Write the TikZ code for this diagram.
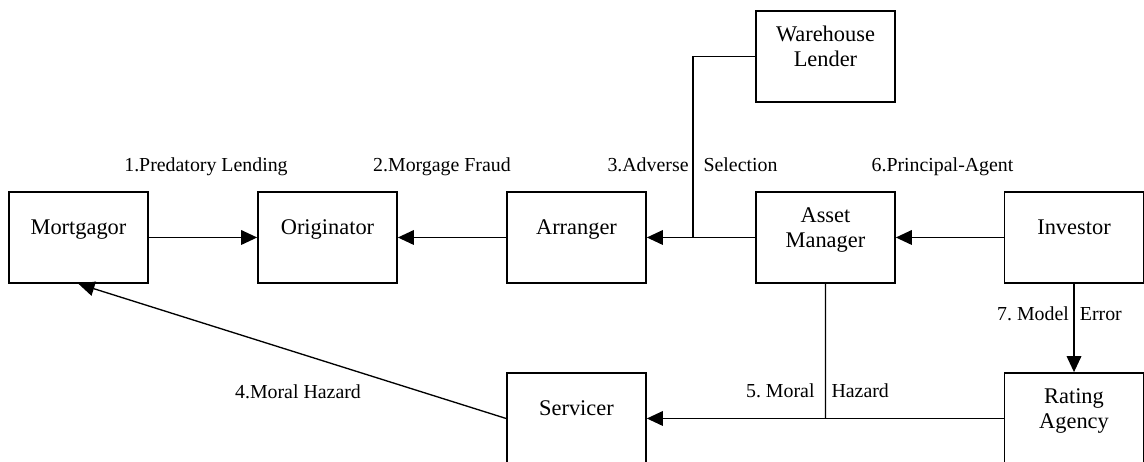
\documentclass[tikz,border=0pt]{standalone}
\usepackage{fontspec}
\setmainfont{Liberation Serif}
\usetikzlibrary{arrows.meta}
\frenchspacing

\tikzset{
  party/.style={draw, line width=1.3pt, minimum width=3.664cm, minimum height=2.399cm,
    align=center, font=\fontsize{16.8}{18.8}\selectfont, text depth=15pt},
  issue/.style={font=\fontsize{14.9}{17}\selectfont, text height=1.6ex, text depth=.35ex, inner sep=0pt},
  flow/.style={line width=1pt, -{Triangle[length=12pt,width=11pt]}},
  link/.style={line width=1pt}
}

\begin{document}
\begin{tikzpicture}
      \useasboundingbox (-2.069,-5.918) rectangle (28.086,6.260);
      % Nodes
      % parties in the chain
      \node[party] (Mort) {Mortgagor};
      \node[party,xshift=6.564cm] (Orig) {Originator};
      \node[party,xshift=13.127cm] (Arr) {Arranger};
      \node[party,xshift=19.690cm] (AM) {Asset\\Manager};
      \node[party,xshift=26.241cm] (Inv) {Investor};
      \node[party,xshift=19.690cm,yshift=4.771cm] (WL) {Warehouse\\Lender};
      \node[party,xshift=13.127cm,yshift=-4.771cm] (Serv) {Servicer};
      \node[party,xshift=26.241cm,yshift=-4.771cm] (RA) {Rating\\Agency};
      % junctions
      \coordinate (J1) at (16.198,0);
      \coordinate (J2) at (19.690,-4.771);
      % frictions
      \node[issue,xshift=3.361cm,yshift=1.845cm] (F1) {1.Predatory Lending};
      \node[issue,xshift=9.582cm,yshift=1.845cm] (F2) {2.Morgage Fraud};
      \node[issue,xshift=16.185cm,yshift=1.845cm] (F3) {3.Adverse\hspace{11.25pt}Selection};
      \node[issue,xshift=5.786cm,yshift=-4.152cm] (F4) {4.Moral Hazard};
      \node[issue,xshift=19.480cm,yshift=-4.125cm] (F5) {5. Moral\hspace{12.75pt}Hazard};
      \node[issue,xshift=22.775cm,yshift=1.845cm] (F6) {6.Principal-Agent};
      \node[issue,xshift=25.859cm,yshift=-2.096cm] (F7) {7. Model\hspace{8.25pt}Error};
      % Edges
      \draw[flow] (Mort) -- (Orig);
      \draw[flow] (Arr) -- (Orig);
      \draw[flow] (AM) -- (Arr);
      \draw[link] (WL.west) -| (J1);
      \draw[flow] (Inv) -- (AM);
      \draw[flow] (Inv) -- (RA);
      \draw[flow] (RA) -- (Serv);
      \draw[link] (AM) -- (J2);
      \draw[flow] (Serv.west) -- (Mort.south);

\end{tikzpicture}
\end{document}
